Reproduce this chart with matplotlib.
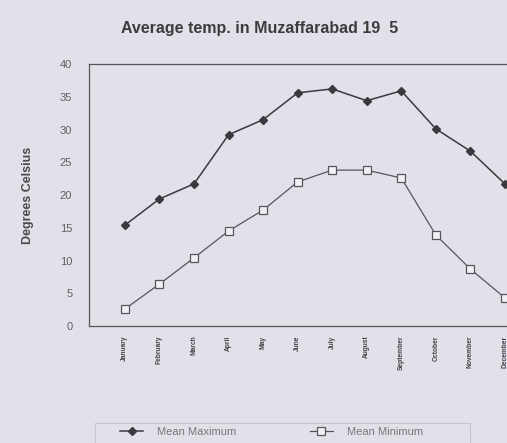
import numpy as np
import matplotlib
matplotlib.use("Agg")
import matplotlib.pyplot as plt
from matplotlib.patches import Rectangle

plt.rcParams['font.family'] = ['Liberation Sans', 'DejaVu Sans']

# data
months = ["January", "February", "March", "April", "May", "June", "July",
          "August", "September", "October", "November", "December"]
mean_max = [15.4, 19.4, 21.7, 29.2, 31.5, 35.6, 36.2, 34.4, 35.9, 30.1, 26.7, 21.7]
mean_min = [2.6, 6.4, 10.4, 14.5, 17.7, 22.0, 23.8, 23.8, 22.6, 13.9, 8.7, 4.3]
yticks = [0, 5, 10, 15, 20, 25, 30, 35, 40]

paper = "#e4e0e9"
ink = "#3a3a3e"

fig = plt.figure(figsize=(5.07, 4.43), dpi=100, facecolor=paper)
ax = fig.add_axes([0.1755, 0.2641, 0.834, 0.5914], facecolor=paper)

x = np.arange(len(months))
ax.plot(x, mean_max, color=ink, lw=1.1, marker="D", ms=3.8,
        mfc=ink, mec=ink, label="Mean Maximum")
ax.plot(x, mean_min, color="#55555a", lw=0.9, marker="s", ms=6,
        mfc="#f2f0f4", mec="#55555a", mew=0.9, label="Mean Minimum")

ax.set_xlim(-1.04, 11.2)
ax.set_ylim(0, 40)
ax.set_yticks(yticks)
ax.set_xticks(x)
ax.set_xticklabels(months, rotation=90, fontsize=4.8, color="#444",
                   fontweight="bold")
ax.tick_params(axis="x", length=0, pad=7)
ax.tick_params(axis="y", length=0, pad=12, labelsize=8, labelcolor="#606060")
for s in ax.spines.values():
    s.set_color("#555")
    s.set_linewidth(0.9)

ax.set_ylabel("Degrees Celsius", fontsize=9, fontweight="bold",
              color="#4a4a4a", labelpad=19)
fig.text(0.513, 0.935, "Average temp. in Muzaffarabad 19  5", ha="center",
         va="center", fontsize=11.5, fontweight="bold", color="#3c3c3c")

# faint legend box under the chart
fig.patches.append(Rectangle((95 / 507, -0.01), 375 / 507, 0.055,
                             transform=fig.transFigure, fill=False,
                             ec="#c8c4ce", lw=0.8))
leg = fig.legend(loc="center left", bbox_to_anchor=(120 / 507, 0.025),
                 ncol=2, fontsize=8, frameon=False,
                 handlelength=2.07, handletextpad=1.26, columnspacing=6.6,
                 borderpad=0, borderaxespad=0)
for t in leg.get_texts():
    t.set_color("#777")

fig.savefig("out.png", dpi=100, facecolor=paper)
